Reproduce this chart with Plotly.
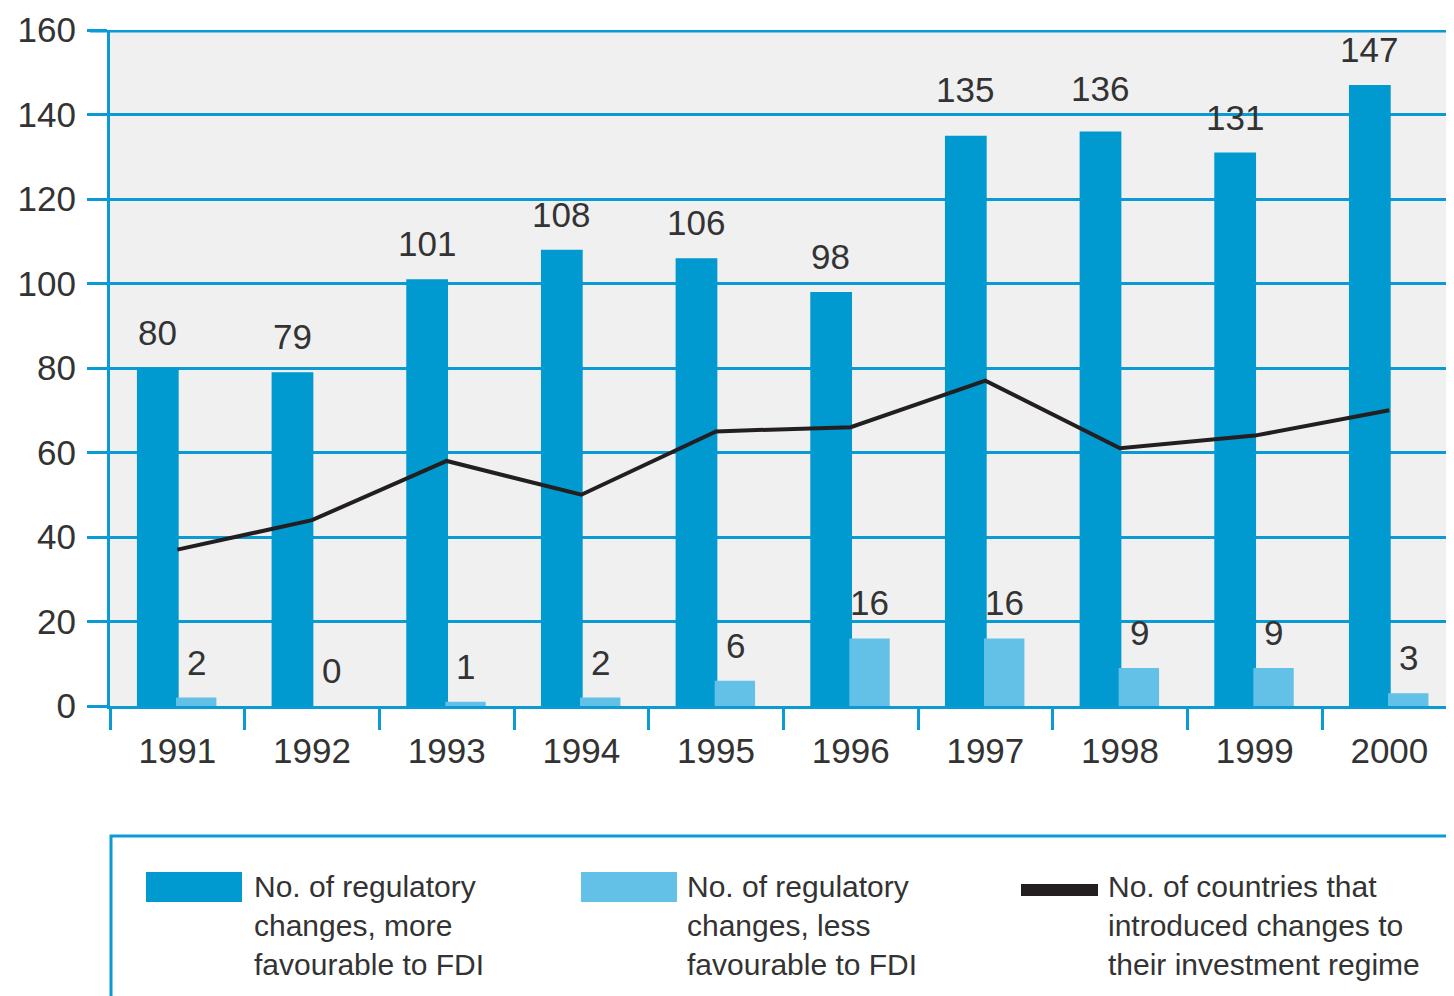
import plotly.graph_objects as go

# data
years = ["1991", "1992", "1993", "1994", "1995", "1996", "1997", "1998", "1999", "2000"]
more_favourable = [80, 79, 101, 108, 106, 98, 135, 136, 131, 147]
less_favourable = [2, 0, 1, 2, 6, 16, 16, 9, 9, 3]
countries = [37, 44, 58, 50, 65, 66, 77, 61, 64, 70]
y_ticks = [0, 20, 40, 60, 80, 100, 120, 140, 160]

legend_labels = [
    "No. of regulatory<br>changes, more<br>favourable to FDI",
    "No. of regulatory<br>changes, less<br>favourable to FDI",
    "No. of countries that<br>introduced changes to<br>their investment regime",
]

DARK = "#0099d0"
LIGHT = "#63c0e6"
GRID = "#0a9bd4"
LINE = "#231f20"
TEXT = "#333333"
FONT = "Liberation Sans"

# page has an 8px body margin, so the figure is sized to fit inside it
PAGE_OFF = 8
W, H = 1454 - PAGE_OFF, 996 - PAGE_OFF
L, T, B = 110 - PAGE_OFF, 30 - PAGE_OFF, 290

# a couple of labels sit a little higher in the original
extra_lift = {6: 11, 7: 7}


# page pixel -> paper helpers for the hand-drawn legend
def px_x(p):
    return (p - 110) / (1454 - 110)


def px_y(p):
    return (706 - p) / (706 - 30)


fig = go.Figure()

fig.add_trace(go.Bar(
    x=years, y=more_favourable, offset=-0.30, width=0.31,
    marker=dict(color=DARK, line=dict(width=0)), name="more",
))
fig.add_trace(go.Bar(
    x=years, y=less_favourable, offset=-0.01, width=0.30,
    marker=dict(color=LIGHT, line=dict(width=0)), name="less",
))
fig.add_trace(go.Scatter(
    x=years, y=countries, mode="lines",
    line=dict(color=LINE, width=4), name="countries",
))

# value labels (category index used as x)
annotations = []
for i, v in enumerate(more_favourable):
    annotations.append(dict(x=i, y=v, xref="x", yref="y", text=str(v), showarrow=False,
                            xshift=-20, yshift=14 + extra_lift.get(i, 0), yanchor="bottom",
                            font=dict(size=35, color=TEXT, family=FONT)))
for i, v in enumerate(less_favourable):
    annotations.append(dict(x=i, y=v, xref="x", yref="y", text=str(v), showarrow=False,
                            xshift=19, yshift=14, yanchor="bottom",
                            font=dict(size=35, color=TEXT, family=FONT)))

# legend texts
for lbl, xp in zip(legend_labels, [252, 685, 1106]):
    annotations.append(dict(xref="paper", yref="paper", x=px_x(xp), y=px_y(868), text=lbl,
                            showarrow=False, xanchor="left", yanchor="top", align="left",
                            font=dict(size=30, color=TEXT, family=FONT)))

shapes = [
    # thick top line
    dict(type="line", xref="paper", yref="y", x0=px_x(90), x1=1.02, y0=160, y1=160,
         line=dict(color=GRID, width=5)),
    # legend frame
    dict(type="rect", xref="paper", yref="paper", x0=px_x(111), x1=px_x(1470),
         y0=px_y(836), y1=px_y(1010), line=dict(color=GRID, width=3)),
    # legend swatches
    dict(type="rect", xref="paper", yref="paper", x0=px_x(146), x1=px_x(242),
         y0=px_y(872), y1=px_y(902), fillcolor=DARK, line=dict(width=0)),
    dict(type="rect", xref="paper", yref="paper", x0=px_x(581), x1=px_x(677),
         y0=px_y(872), y1=px_y(902), fillcolor=LIGHT, line=dict(width=0)),
    dict(type="rect", xref="paper", yref="paper", x0=px_x(1021), x1=px_x(1098),
         y0=px_y(884), y1=px_y(896), fillcolor=LINE, line=dict(width=0)),
]

fig.update_layout(
    width=W, height=H,
    margin=dict(l=L, r=0, t=T, b=B),
    paper_bgcolor="white",
    plot_bgcolor="#f0f0f0",
    barmode="overlay",
    showlegend=False,
    annotations=annotations,
    shapes=shapes,
    font=dict(family=FONT, color=TEXT),
)

fig.update_xaxes(
    type="category", range=[-0.5, 9.48],
    tickson="boundaries", ticks="outside", ticklen=21, tickwidth=3, tickcolor=GRID,
    showline=True, linecolor=GRID, linewidth=3, showgrid=False,
    ticklabelstandoff=12,
    tickfont=dict(size=35, color=TEXT, family=FONT),
)
fig.update_yaxes(
    range=[0, 160], tickvals=y_ticks,
    showgrid=True, gridcolor=GRID, gridwidth=3,
    ticks="outside", ticklen=20, tickwidth=3, tickcolor=GRID,
    showline=True, linecolor=GRID, linewidth=3, zeroline=False,
    ticklabelstandoff=4,
    tickfont=dict(size=35, color=TEXT, family=FONT),
)

fig.write_html("out.html")
